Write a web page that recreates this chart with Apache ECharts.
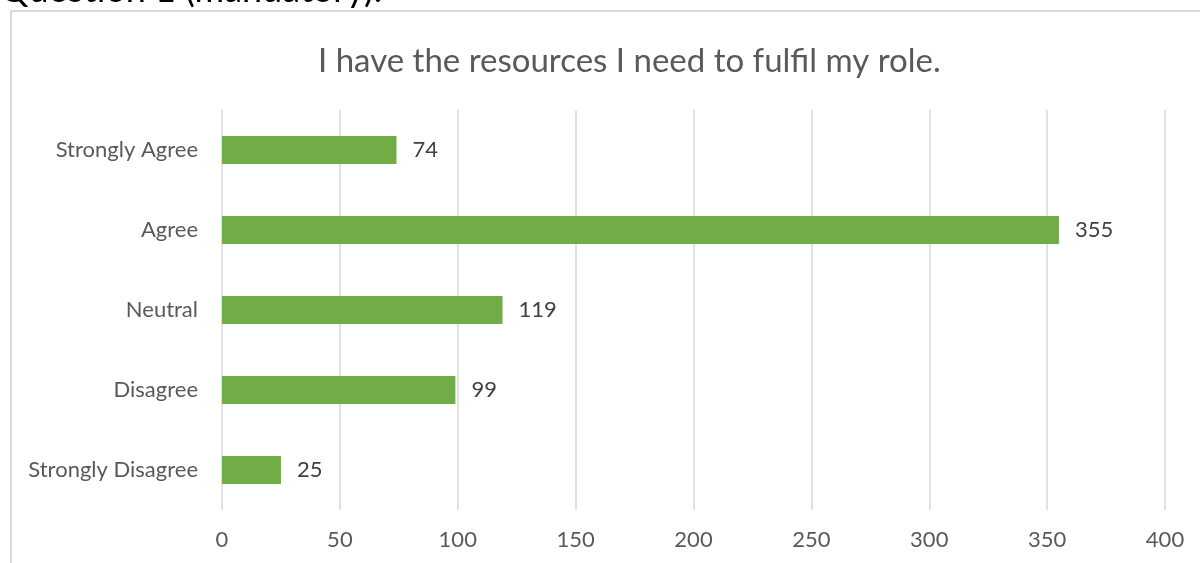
<!DOCTYPE html>
<html>
<head>
<meta charset="utf-8">
<style>html,body{margin:0;padding:0;background:#fff;}#c{width:1200px;height:563px;}</style>
<script src="https://cdn.jsdelivr.net/npm/echarts@6/dist/echarts.min.js"></script>
</head>
<body>
<div id="c"></div>
<script>
const titleText = 'I have the resources I need to fulfil my role.';
const headingText = 'Question 1 (mandatory).';
const categories = ['Strongly Disagree', 'Disagree', 'Neutral', 'Agree', 'Strongly Agree'];
const values = [25, 99, 119, 355, 74];
const xTicks = { min: 0, max: 400, interval: 50 };

const FONT = 'Lato, "Open Sans", sans-serif';
const chart = echarts.init(document.getElementById('c'), null, { renderer: 'canvas' });
chart.setOption({
  animation: false,
  backgroundColor: '#fff',
  title: {
    text: titleText, left: 313, top: 40,
    textStyle: { fontFamily: FONT, fontSize: 33, fontWeight: 'normal', color: '#595959' }
  },
  graphic: [
    { type: 'rect', shape: { x: 11, y: 11, width: 1300, height: 700 }, style: { fill: 'none', stroke: '#d9d9d9', lineWidth: 2 }, z: -1 },
    { type: 'text', x: 0, y: -28, style: { text: headingText, fontFamily: FONT, fontSize: 36, fill: '#000', verticalAlign: 'top' } }
  ],
  grid: { left: 222, right: 35, top: 110, bottom: 53, containLabel: false },
  xAxis: {
    type: 'value', min: xTicks.min, max: xTicks.max, interval: xTicks.interval,
    axisLine: { show: false }, axisTick: { show: false },
    splitLine: { show: true, lineStyle: { color: '#d9d9d9', width: 1.5 } },
    axisLabel: { margin: 19, fontFamily: FONT, fontSize: 22, color: '#595959' }
  },
  yAxis: {
    type: 'category', data: categories,
    axisLine: { show: false }, axisTick: { show: false },
    axisLabel: { margin: 24, fontFamily: FONT, fontSize: 22, color: '#595959' }
  },
  series: [{
    type: 'bar', data: values, barWidth: '35%',
    itemStyle: { color: '#70ad47' },
    label: { show: true, position: 'right', distance: 16, fontFamily: FONT, fontSize: 22, color: '#404040' }
  }]
});
</script>
</body>
</html>
